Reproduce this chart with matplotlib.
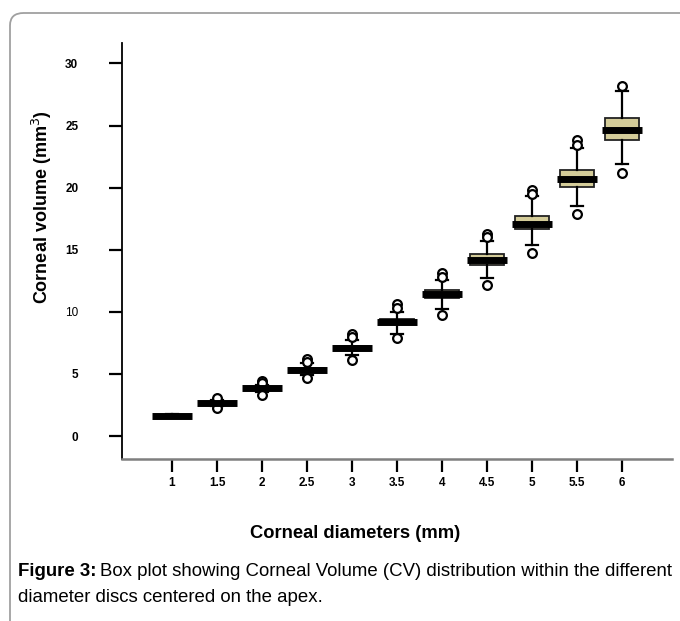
import matplotlib
matplotlib.use("Agg")
import matplotlib.pyplot as plt
from matplotlib.patches import FancyBboxPatch
import numpy as np

plt.rcParams['font.family'] = ['Liberation Sans', 'DejaVu Sans']

# corneal diameters (mm) and box statistics of the corneal volume (mm^3)
diameters = [1, 1.5, 2, 2.5, 3, 3.5, 4, 4.5, 5, 5.5, 6]
tick_labels = ["1", "1.5", "2", "2.5", "3", "3.5", "4", "4.5", "5", "5.5", "6"]
medians = [1.63, 2.65, 3.85, 5.35, 7.05, 9.18, 11.4, 14.16, 17.1, 20.7, 24.66]
q1 = [1.55, 2.55, 3.75, 5.2, 6.9, 9.0, 11.1, 13.8, 16.7, 20.05, 23.85]
q3 = [1.72, 2.75, 3.95, 5.5, 7.25, 9.4, 11.75, 14.65, 17.7, 21.4, 25.6]
whisk_lo = [1.5, 2.4, 3.55, 4.9, 6.5, 8.2, 10.25, 12.7, 15.4, 18.5, 21.9]
whisk_hi = [1.8, 2.9, 4.15, 5.85, 7.75, 10.0, 12.55, 15.7, 19.3, 23.2, 27.8]
outliers = [[], [3.05, 2.25], [4.4, 4.3, 3.3], [6.2, 6.0, 4.65],
            [8.2, 8.0, 6.1], [10.6, 10.35, 7.87], [13.1, 12.8, 9.72],
            [16.3, 16.05, 12.15], [19.85, 19.5, 14.75],
            [23.8, 23.45, 17.85], [28.2, 21.2]]
y_ticks = [0, 5, 10, 15, 20, 25, 30]

fig = plt.figure(figsize=(6.8, 6.21), dpi=100)
ax = fig.add_axes([122/680, 1 - 459/621, 550/680, 416/621])

stats = []
for i in range(len(diameters)):
    stats.append(dict(med=medians[i], q1=q1[i], q3=q3[i],
                      whislo=whisk_lo[i], whishi=whisk_hi[i],
                      fliers=outliers[i]))

pos = np.array(diameters)
ax.bxp(stats, positions=pos, widths=0.378, capwidths=0.125,
       patch_artist=True, manage_ticks=False,
       boxprops=dict(facecolor="#d4cc99", edgecolor="#222222", linewidth=1.3),
       whiskerprops=dict(color="black", linewidth=1.6),
       capprops=dict(color="black", linewidth=1.6),
       medianprops=dict(linewidth=0),
       flierprops=dict(marker="o", markersize=6.3, markerfacecolor="white",
                       markeredgecolor="black", markeredgewidth=1.6))
ax.hlines(medians, pos - 0.222, pos + 0.222, colors="black", linewidth=5, zorder=5)

ax.set_xlim(1 - 50/90, 6 + 50/90)
ax.set_ylim(-23/12.45, (437 - 43)/12.45)

ax.set_xticks(diameters)
ax.set_xticklabels(tick_labels, fontsize=8.5, fontweight="bold")
ax.set_yticks(y_ticks)
ax.set_yticklabels([str(v) for v in y_ticks], fontsize=8.5, fontweight="bold")
ax.get_yticklabels()[2].set_fontweight("normal")

for s in ["top", "right"]:
    ax.spines[s].set_visible(False)
ax.spines["left"].set_linewidth(1.3)
ax.spines["left"].set_color("black")
ax.spines["bottom"].set_linewidth(1.8)
ax.spines["bottom"].set_color("#7f7f7f")
ax.tick_params(axis="y", length=9.5, width=1.6, pad=22, color="black")
ax.tick_params(axis="x", length=9, width=1.6, pad=4, color="black")

fig.text(42/680, 1 - 207/621, "Corneal volume (mm$^{3}$)", rotation=90,
         ha="center", va="center", fontsize=13, fontweight="bold")
fig.text(355/680, 1 - 533/621, "Corneal diameters (mm)", ha="center", va="center",
         fontsize=13.2, fontweight="bold")

# caption
cap_size = 13.4
t1 = fig.text(18/680, 1 - 571/621, "Figure 3:", ha="left", va="center",
              fontsize=cap_size, fontweight="bold")
fig.canvas.draw()
bb = t1.get_window_extent(fig.canvas.get_renderer())
fig.text((bb.x1 + 4)/680, 1 - 571/621,
         "Box plot showing Corneal Volume (CV) distribution within the different",
         ha="left", va="center", fontsize=cap_size)
fig.text(18/680, 1 - 597/621, "diameter discs centered on the apex.",
         ha="left", va="center", fontsize=cap_size)

# rounded frame around the figure
frame = FancyBboxPatch((10/680, -0.2), 1.2, 1.2 - 13/621,
                       boxstyle="round,pad=0,rounding_size=0.02",
                       transform=fig.transFigure, fill=False,
                       edgecolor="#a0a0a0", linewidth=1.3)
fig.patches.append(frame)

fig.savefig("out.png", dpi=100)
